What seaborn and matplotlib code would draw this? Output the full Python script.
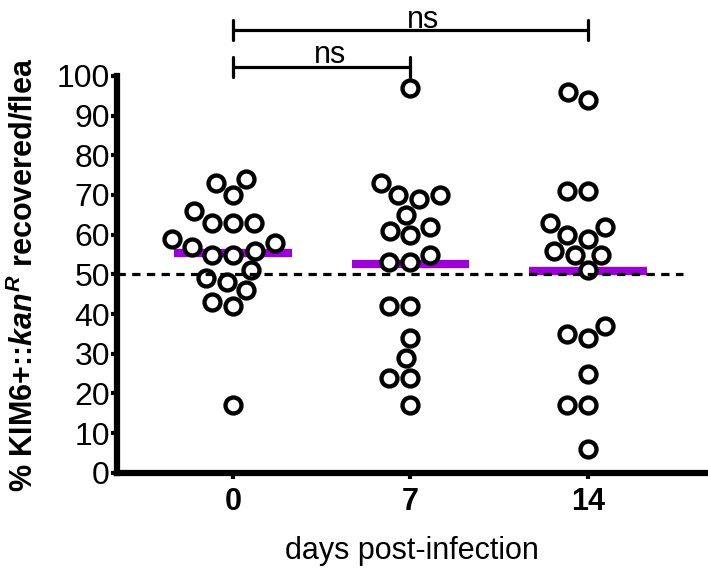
import numpy as np
import pandas as pd
import seaborn as sns
import matplotlib.pyplot as plt

# values
days = ["0", "7", "14"]
day0 = [73, 74, 70, 66, 63, 63, 63, 59, 55, 55, 56, 57, 58, 51, 49, 48, 46, 43, 42, 17]
day7 = [97, 73, 69, 70, 70, 65, 61, 62, 60, 55, 53, 53, 42, 42, 34, 29, 24, 24, 17]
day14 = [96, 94, 71, 71, 63, 59, 55, 60, 56, 62, 55, 51, 37, 34, 35, 25, 17, 17, 6]
yticks = list(range(0, 101, 10))
# (group a, group b, label, bracket height, label x, label offset)
comparisons = [(0, 1, "ns", 102.3, 0.55, 0.9), (0, 2, "ns", 111.6, 1.07, 0.6)]

df = pd.DataFrame({
    "day": ["0"] * len(day0) + ["7"] * len(day7) + ["14"] * len(day14),
    "pct": day0 + day7 + day14,
})

sns.set_style("ticks", {"axes.edgecolor": "black", "xtick.color": "black",
                        "ytick.color": "black", "text.color": "black",
                        "axes.labelcolor": "black"})
plt.rcParams["font.family"] = ["Liberation Sans", "DejaVu Sans"]
plt.rcParams["mathtext.fontset"] = "custom"
plt.rcParams["mathtext.it"] = "Liberation Sans:italic:bold"
plt.rcParams["mathtext.rm"] = "Liberation Sans:bold"

fig = plt.figure(figsize=(7.08, 5.71), dpi=100)
ax = fig.add_axes([0.165, 0.172, 0.835, 0.695])

sns.swarmplot(data=df, x="day", y="pct", order=days, ax=ax,
              color="white", edgecolor="black", linewidth=3.1, size=11.5, zorder=3)

means = df.groupby("day")["pct"].mean().reindex(days)
pos = np.arange(len(days))
ax.hlines(means.values, pos - 0.33, pos + 0.33, color="#9B00D9", lw=6, zorder=2)

ax.axhline(50, xmin=0, xmax=0.958, color="black", lw=2.3, ls=(0, (2.6, 2.0)), zorder=4)

for a, b, lab, yb, xt, off in comparisons:
    ax.plot([a, b], [yb, yb], color="black", lw=2.3, clip_on=False)
    for xx in (a, b):
        ax.plot([xx, xx], [yb - 2.5, yb + 2.5], color="black", lw=2.3, clip_on=False)
    ax.text(xt, yb + off, lab, ha="center", va="baseline", fontsize=22)

ax.set_xlim(-0.654, 2.676)
ax.set_ylim(0, 100)
ax.set_yticks(yticks)
sns.despine(ax=ax)
for s in ["left", "bottom"]:
    ax.spines[s].set_linewidth(4.5)

ax.tick_params(axis="y", length=4, width=3, pad=1, labelsize=23)
ax.tick_params(axis="x", length=4, width=3, pad=6, labelsize=22)
for t in ax.get_xticklabels():
    t.set_fontweight("bold")

ax.set_xlabel("days post-infection", fontsize=22, labelpad=14)
ax.set_ylabel(r"% KIM6+::$\mathit{kan}^{\mathit{R}}$ recovered/flea",
              fontsize=22, fontweight="bold", labelpad=12)

fig.savefig("out.png", dpi=100)
